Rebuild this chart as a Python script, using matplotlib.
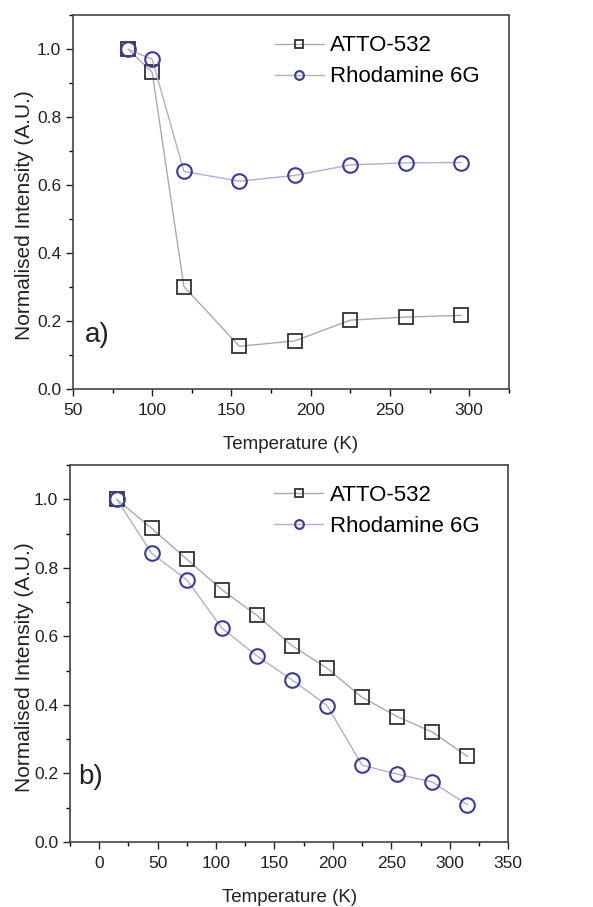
import matplotlib
matplotlib.use("Agg")
import matplotlib.pyplot as plt
from matplotlib.ticker import MultipleLocator

plt.rcParams['font.family'] = ['Liberation Sans', 'DejaVu Sans']

# Panel a data
temp_a = [85, 100, 120, 155, 190, 225, 260, 295]
atto_a = [1.0, 0.932, 0.302, 0.126, 0.142, 0.203, 0.212, 0.217]
rhod_a = [1.0, 0.971, 0.641, 0.612, 0.629, 0.660, 0.666, 0.667]

# Panel b data
temp_b = [15, 45, 75, 105, 135, 165, 195, 225, 255, 285, 315]
atto_b = [1.0, 0.915, 0.825, 0.736, 0.661, 0.573, 0.507, 0.422, 0.366, 0.321, 0.250]
rhod_b = [1.0, 0.842, 0.765, 0.624, 0.543, 0.473, 0.398, 0.224, 0.198, 0.175, 0.109]

series_labels = ["ATTO-532", "Rhodamine 6G"]

fig = plt.figure(figsize=(5.93, 9.07), dpi=100)

ax_a = fig.add_axes([0.123, 0.571, 0.735, 0.412])
ax_b = fig.add_axes([0.118, 0.0717, 0.739, 0.4156])

sq_edge = '#333333'
sq_line = '#aaaaaa'
ci_edge = '#3b3b9c'
ci_line = '#aeaed6'

def draw(ax, x, y1, y2, xlim, xmajor, panel, px, py, ylx):
    ax.plot(x, y1, '-', color=sq_line, lw=1.0, marker='s', ms=9.5,
            mfc='none', mec=sq_edge, mew=1.3, label=series_labels[0], zorder=3)
    ax.plot(x, y2, '-', color=ci_line, lw=1.0, marker='o', ms=10.5,
            mfc='none', mec=ci_edge, mew=1.5, label=series_labels[1], zorder=4)
    ax.set_xlim(*xlim)
    ax.set_ylim(0, 1.1)
    ax.xaxis.set_major_locator(MultipleLocator(xmajor))
    ax.xaxis.set_minor_locator(MultipleLocator(xmajor / 2))
    ax.yaxis.set_major_locator(MultipleLocator(0.2))
    ax.yaxis.set_minor_locator(MultipleLocator(0.1))
    ax.yaxis.set_major_formatter(matplotlib.ticker.FormatStrFormatter('%.1f'))
    ax.tick_params(which='major', direction='out', length=5, width=1.0,
                   labelsize=12.5, colors='#222222', top=False, right=False)
    ax.tick_params(axis='x', which='major', pad=5)
    ax.tick_params(which='minor', direction='out', length=3, width=1.0,
                   top=False, right=False)
    for s in ax.spines.values():
        s.set_color('#444444')
        s.set_linewidth(1.2)
    ax.set_xlabel("Temperature (K)", fontsize=13.5, color='#222222', labelpad=13)
    ax.set_ylabel("Normalised Intensity (A.U.)", fontsize=15, color='#222222')
    ax.yaxis.set_label_coords(ylx, 0.465)
    ax.legend(loc='upper right', frameon=False, fontsize=16, markerscale=0.6,
              handlelength=2.2, handletextpad=0.3, labelspacing=0.45,
              bbox_to_anchor=(0.98, 1.0))
    ax.text(px, py, panel, transform=ax.transAxes, fontsize=20, color='#222222')

draw(ax_a, temp_a, atto_a, rhod_a, (50, 325), 50, "a)", 0.028, 0.125, -0.089)
draw(ax_b, temp_b, atto_b, rhod_b, (-25, 350), 50, "b)", 0.018, 0.155, -0.082)

fig.savefig("out.png", dpi=100)
